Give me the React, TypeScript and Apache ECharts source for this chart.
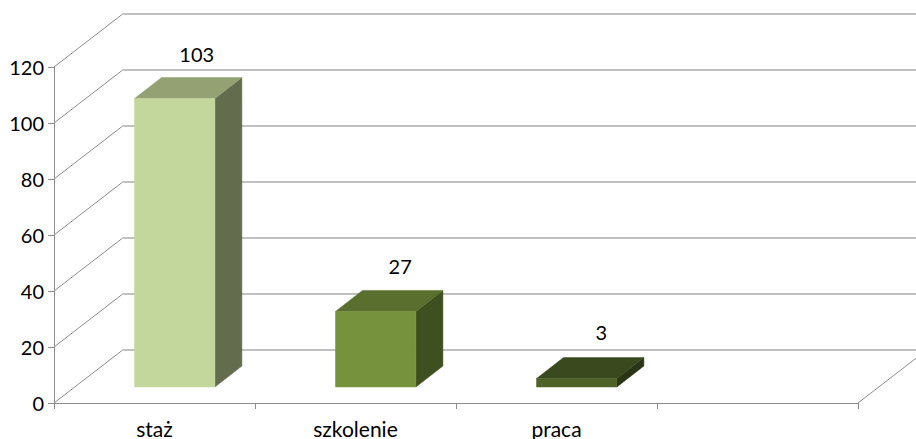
import React, { useEffect, useRef } from "react";
import * as echarts from "echarts";

const categories = ["staż", "szkolenie", "praca", ""];
const values = [103, 27, 3];
const gridTicks = [0, 20, 40, 60, 80, 100, 120];

const frontColors = ["#C3D69B", "#76923C", "#4F6228"];
const topColors = ["#93A173", "#5A6E2E", "#3B4A1E"];
const sideColors = ["#636D4E", "#3E4F20", "#2A3515"];

const WALL_DX = 68.7;
const WALL_DY = -53;
const FLOOR_DX = 20.2;
const FLOOR_DY = -16;
const BAR_DX = 27;
const BAR_DY = -21;
const BAR_FRACTION = 0.4;
const LABEL_SHIFT_X = [-5, -2.5, -2.5];
const LABEL_SHIFT_Y = [-24, -24, -26];
const FONT = "Lato, 'Open Sans', sans-serif";

export default function App() {
  const ref = useRef<HTMLDivElement>(null);

  useEffect(() => {
    document.body.style.margin = "0";
    const chart = echarts.init(ref.current!, undefined, { renderer: "svg" });

    const wall = (params: any, api: any) => {
      const value = api.value(0);
      const cs = params.coordSys;
      const y = api.coord([0, value])[1];
      const left = cs.x;
      const right = cs.x + cs.width;
      const diagonal = { stroke: "#8C8C8C", lineWidth: 1, fill: "none" };
      const children: any[] = [
        {
          type: "line",
          shape: { x1: left, y1: y, x2: left + WALL_DX, y2: y + WALL_DY },
          style: diagonal,
        },
        {
          type: "line",
          shape: {
            x1: left + WALL_DX,
            y1: y + WALL_DY,
            x2: right + WALL_DX,
            y2: y + WALL_DY,
          },
          style: { stroke: "#ABABAB", lineWidth: 1.5, fill: "none" },
        },
      ];
      if (value === 0) {
        children.push({
          type: "line",
          shape: { x1: right, y1: y, x2: right + WALL_DX, y2: y + WALL_DY },
          style: diagonal,
        });
      }
      return { type: "group", children };
    };

    const bar = (params: any, api: any) => {
      const idx = api.value(0);
      const [cx, y0] = api.coord([idx, 0]);
      const yTop = api.coord([idx, api.value(1)])[1] + FLOOR_DY;
      const w = api.size([1, 0])[0] * BAR_FRACTION;
      const x1 = cx - w / 2 + FLOOR_DX;
      const x2 = x1 + w;
      const yBot = y0 + FLOOR_DY;
      const i = params.dataIndex;
      const face = (points: number[][], color: string) => ({
        type: "polygon",
        shape: { points },
        style: { fill: color, stroke: color, lineWidth: 0.5 },
      });
      return {
        type: "group",
        children: [
          face(
            [
              [x2, yTop],
              [x2 + BAR_DX, yTop + BAR_DY],
              [x2 + BAR_DX, yBot + BAR_DY],
              [x2, yBot],
            ],
            sideColors[i]
          ),
          face(
            [
              [x1, yTop],
              [x1 + BAR_DX, yTop + BAR_DY],
              [x2 + BAR_DX, yTop + BAR_DY],
              [x2, yTop],
            ],
            topColors[i]
          ),
          face(
            [
              [x1, yTop],
              [x2, yTop],
              [x2, yBot],
              [x1, yBot],
            ],
            frontColors[i]
          ),
          {
            type: "text",
            x: x1 + BAR_DX + w / 2 + LABEL_SHIFT_X[i],
            y: yTop + BAR_DY + LABEL_SHIFT_Y[i],
            style: {
              text: String(api.value(1)),
              fill: "#000000",
              font: `20px ${FONT}`,
              align: "center",
              verticalAlign: "middle",
            },
          },
        ],
      };
    };

    chart.setOption({
      animation: false,
      backgroundColor: "#FFFFFF",
      grid: {
        left: 54,
        right: 58,
        top: 67,
        bottom: 36,
        containLabel: false,
        outerBoundsMode: "none",
      },
      xAxis: {
        type: "category",
        data: categories,
        axisLine: { lineStyle: { color: "#8C8C8C", width: 1 } },
        axisTick: { show: true, length: 6, lineStyle: { color: "#8C8C8C" } },
        axisLabel: {
          color: "#000000",
          fontFamily: FONT,
          fontSize: 21,
          lineHeight: 14,
          margin: 18,
          interval: 0,
        },
        splitLine: { show: false },
      },
      yAxis: {
        type: "value",
        min: 0,
        max: 120,
        interval: 20,
        axisLine: { show: true, lineStyle: { color: "#8C8C8C", width: 1 } },
        axisTick: { show: true, length: 6, lineStyle: { color: "#8C8C8C" } },
        axisLabel: {
          color: "#000000",
          fontFamily: FONT,
          fontSize: 20,
          margin: 10,
        },
        splitLine: { show: false },
      },
      series: [
        {
          type: "custom",
          renderItem: wall,
          data: gridTicks.map((v) => [v]),
          encode: { y: 0 },
          silent: true,
          z: 1,
        },
        {
          type: "custom",
          renderItem: bar,
          data: values.map((v, i) => [i, v]),
          encode: { x: 0, y: 1 },
          silent: true,
          z: 3,
        },
      ],
    });

    return () => chart.dispose();
  }, []);

  return <div ref={ref} style={{ width: 916, height: 439 }} />;
}
